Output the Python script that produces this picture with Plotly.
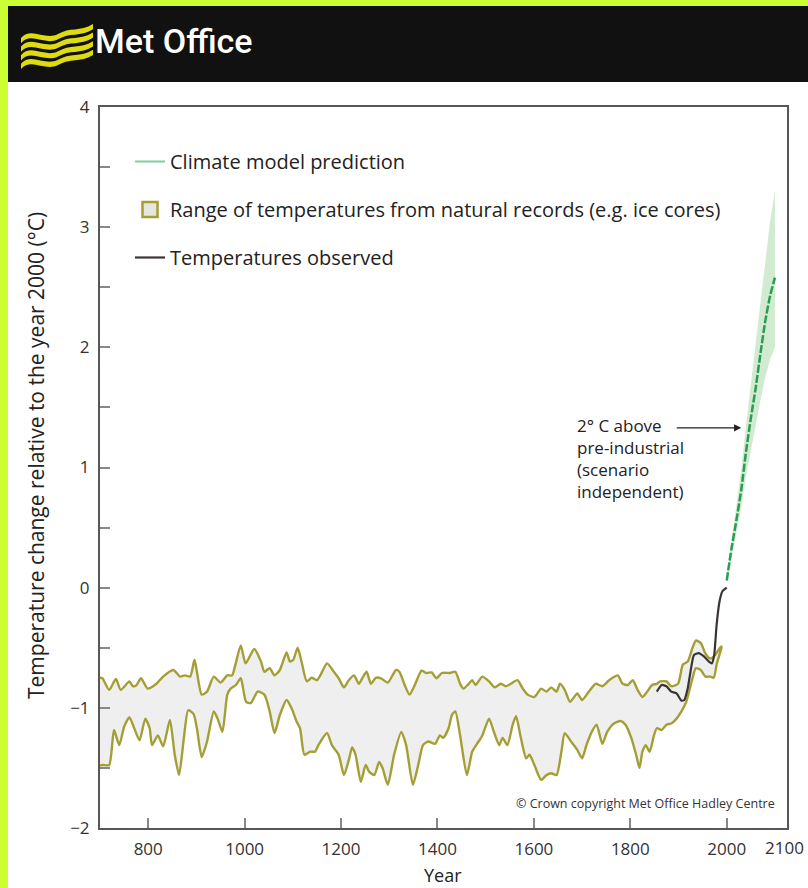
import plotly.graph_objects as go

# ---------------- data ----------------
nat_upper_years = [700, 705, 719, 733, 743, 761, 768, 775, 785, 799, 817, 831, 852, 866, 876, 887, 896, 901, 911, 922,
                   936, 950, 964, 974, 981, 992, 1002, 1020, 1034, 1041, 1052, 1062, 1073, 1087, 1094, 1101, 1110, 1118,
                   1129, 1139, 1150, 1157, 1171, 1185, 1195, 1206, 1216, 1227, 1237, 1244, 1253, 1262, 1272, 1283, 1297,
                   1314, 1321, 1332, 1342, 1353, 1367, 1377, 1388, 1398, 1409, 1426, 1437, 1447, 1454, 1465, 1472, 1479,
                   1493, 1507, 1519, 1531, 1542, 1552, 1566, 1577, 1587, 1601, 1615, 1626, 1636, 1647, 1654, 1664, 1675,
                   1690, 1700, 1714, 1728, 1742, 1756, 1774, 1784, 1795, 1805, 1815, 1825, 1835, 1845, 1855, 1862, 1875,
                   1885, 1899, 1909, 1919, 1929, 1936, 1946, 1956, 1966, 1976, 1986, 1989]
nat_upper_vals = [-0.75, -0.754, -0.85, -0.76, -0.85, -0.78, -0.82, -0.815, -0.754, -0.84, -0.80, -0.74, -0.685, -0.74,
                  -0.73, -0.74, -0.60, -0.70, -0.89, -0.865, -0.74, -0.79, -0.73, -0.73, -0.64, -0.48, -0.63, -0.51,
                  -0.615, -0.70, -0.67, -0.73, -0.685, -0.54, -0.615, -0.60, -0.50, -0.615, -0.78, -0.75, -0.77, -0.73,
                  -0.63, -0.70, -0.754, -0.83, -0.77, -0.73, -0.80, -0.754, -0.70, -0.80, -0.75, -0.754, -0.79, -0.685,
                  -0.70, -0.81, -0.89, -0.81, -0.69, -0.71, -0.705, -0.754, -0.71, -0.71, -0.70, -0.80, -0.84, -0.80,
                  -0.77, -0.81, -0.74, -0.78, -0.83, -0.80, -0.82, -0.80, -0.77, -0.84, -0.89, -0.91, -0.84, -0.865,
                  -0.83, -0.865, -0.80, -0.85, -0.95, -0.88, -0.935, -0.865, -0.80, -0.82, -0.77, -0.73, -0.80, -0.81,
                  -0.77, -0.85, -0.91, -0.865, -0.81, -0.80, -0.78, -0.78, -0.82, -0.80, -0.64, -0.615, -0.50, -0.44,
                  -0.46, -0.55, -0.59, -0.56, -0.50, -0.49]

nat_lower_years = [700, 705, 719, 729, 740, 750, 761, 771, 782, 794, 803, 808, 820, 831, 845, 855, 864, 874, 883, 894,
                   901, 911, 922, 936, 944, 954, 964, 971, 982, 992, 1003, 1013, 1027, 1041, 1052, 1062, 1073, 1087,
                   1097, 1108, 1115, 1124, 1136, 1146, 1153, 1171, 1181, 1195, 1206, 1216, 1223, 1230, 1241, 1251, 1258,
                   1269, 1279, 1286, 1297, 1310, 1325, 1335, 1349, 1360, 1370, 1381, 1395, 1405, 1412, 1423, 1430, 1437,
                   1447, 1461, 1472, 1482, 1493, 1507, 1517, 1528, 1535, 1545, 1556, 1563, 1573, 1584, 1591, 1601, 1615,
                   1626, 1636, 1647, 1657, 1664, 1677, 1690, 1700, 1709, 1720, 1730, 1742, 1752, 1766, 1780, 1790, 1802,
                   1812, 1819, 1825, 1832, 1840, 1849, 1855, 1865, 1875, 1885, 1896, 1906, 1916, 1926, 1936, 1946, 1956,
                   1966, 1973, 1979, 1989]
nat_lower_vals = [-1.48, -1.476, -1.476, -1.185, -1.31, -1.157, -1.08, -1.17, -1.27, -1.09, -1.17, -1.31, -1.23, -1.32,
                  -1.10, -1.39, -1.56, -1.25, -1.02, -1.05, -1.17, -1.41, -1.28, -1.03, -1.09, -1.20, -0.89, -0.84,
                  -0.81, -0.754, -0.95, -0.96, -0.865, -0.89, -1.03, -1.21, -1.06, -0.935, -1.00, -1.115, -1.17, -1.39,
                  -1.365, -1.365, -1.31, -1.21, -1.31, -1.39, -1.56, -1.435, -1.33, -1.39, -1.615, -1.476, -1.53,
                  -1.56, -1.45, -1.50, -1.64, -1.39, -1.20, -1.31, -1.64, -1.476, -1.31, -1.28, -1.30, -1.23, -1.25,
                  -1.17, -1.06, -1.03, -1.23, -1.56, -1.365, -1.30, -1.23, -1.09, -1.20, -1.31, -1.25, -1.31, -1.14,
                  -1.07, -1.25, -1.42, -1.39, -1.476, -1.60, -1.56, -1.545, -1.56, -1.365, -1.21, -1.28, -1.35, -1.42,
                  -1.31, -1.20, -1.14, -1.30, -1.20, -1.13, -1.11, -1.14, -1.25, -1.39, -1.50, -1.365, -1.31, -1.365,
                  -1.23, -1.17, -1.185, -1.14, -1.13, -1.09, -1.03, -0.95, -0.80, -0.67, -0.685, -0.74, -0.74, -0.75,
                  -0.64, -0.50]

obs_years = [1855, 1865, 1875, 1885, 1896, 1906, 1912, 1919, 1926, 1932, 1942, 1952, 1963, 1969, 1974, 1979, 1985,
             1991, 2000]
obs_vals = [-0.865, -0.81, -0.82, -0.865, -0.88, -0.94, -0.935, -0.84, -0.67, -0.56, -0.545, -0.57, -0.615, -0.63,
            -0.56, -0.31, -0.115, -0.03, 0.0]

model_years = [2000, 2010, 2020, 2030, 2040, 2050, 2060, 2070, 2080, 2090, 2100]
model_mid = [0.06, 0.33, 0.56, 0.81, 1.13, 1.41, 1.66, 1.95, 2.22, 2.43, 2.58]
model_upper = [0.09, 0.40, 0.68, 0.98, 1.35, 1.70, 2.05, 2.40, 2.75, 3.05, 3.30]
model_lower = [0.04, 0.27, 0.46, 0.66, 0.93, 1.15, 1.35, 1.56, 1.75, 1.90, 2.00]

x_tickvals = [800, 1000, 1200, 1400, 1600, 1800, 2000]
x_ticktext = ["800", "1000", "1200", "1400", "1600", "1800", "2000"]
y_tickvals = [-2, -1, 0, 1, 2, 3, 4]

# ---------------- layout helpers ----------------
W, H = 808, 888
L, R, T, B = 100, 787, 107, 828
PW, PH = R - L, B - T


def px(x):
    return (x - L) / PW


def py(y):
    return (B - y) / PH


FONT = "Open Sans, Noto Sans, sans-serif"
OLIVE = "#a39f35"

fig = go.Figure()

# model range band
fig.add_trace(go.Scatter(
    x=model_years + model_years[::-1], y=model_upper + model_lower[::-1],
    fill="toself", fillcolor="rgba(150,210,150,0.45)", line=dict(width=0),
    mode="lines", showlegend=False, hoverinfo="skip"))

# natural records band
fig.add_trace(go.Scatter(
    x=nat_upper_years + nat_lower_years[::-1], y=nat_upper_vals + nat_lower_vals[::-1],
    fill="toself", fillcolor="#efefef", line=dict(color=OLIVE, width=2.4, shape="spline", smoothing=0.6),
    mode="lines", showlegend=False, hoverinfo="skip"))

# observed
fig.add_trace(go.Scatter(
    x=obs_years, y=obs_vals, mode="lines", line=dict(color="#3b3434", width=2.2, shape="spline", smoothing=0.5),
    name="Temperatures observed", legendgroup="c", legendrank=3))

# model prediction
fig.add_trace(go.Scatter(
    x=model_years, y=model_mid, mode="lines",
    line=dict(color="#2a9d52", width=2.5, dash="8px,2px", shape="spline", smoothing=0.6),
    showlegend=False))

# legend entries for the model line and the natural range
fig.add_trace(go.Scatter(
    x=[None], y=[None], mode="lines", line=dict(color="#7fd0a0", width=2),
    name="Climate model prediction", legendgroup="a", legendrank=1))
fig.add_trace(go.Scatter(
    x=[None], y=[None], mode="markers",
    marker=dict(symbol="square", size=15, color="#e6e6e0", line=dict(color=OLIVE, width=2.5)),
    name="Range of temperatures from natural records (e.g. ice cores)", legendgroup="b", legendrank=2))

# ---------------- decoration shapes ----------------
shapes = []
shapes.append(dict(type="rect", xref="paper", yref="paper", x0=px(8), x1=px(W + 5), y0=py(H + 5), y1=py(82),
                   fillcolor="white", line=dict(width=0), layer="below"))
shapes.append(dict(type="rect", xref="paper", yref="paper", x0=px(8), x1=px(W + 5), y0=py(82), y1=py(6),
                   fillcolor="#111111", line=dict(width=0), layer="below"))


def logo_stripe(oy):
    top = [(21, oy + 7), (31, oy - 5), (45, oy + 10), (58, oy + 3), (70, oy - 4), (80, oy + 1), (93, oy - 7)]
    th = 5.2
    bot = [(x, y + th) for (x, y) in top][::-1]

    def p(pt):
        return f"{px(pt[0]):.5f},{py(pt[1]):.5f}"
    path = "M " + p(top[0]) + " C " + p(top[1]) + " " + p(top[2]) + " " + p(top[3])
    path += " C " + p(top[4]) + " " + p(top[5]) + " " + p(top[6])
    path += " L " + p(bot[0]) + " C " + p(bot[1]) + " " + p(bot[2]) + " " + p(bot[3])
    path += " C " + p(bot[4]) + " " + p(bot[5]) + " " + p(bot[6]) + " Z"
    return path


for i in range(4):
    shapes.append(dict(type="path", xref="paper", yref="paper", path=logo_stripe(31 + i * 8.6),
                       fillcolor="#dedc10", line=dict(width=0), layer="above"))

# ---------------- annotations ----------------
annotations = [
    dict(text="Met Office", xref="paper", yref="paper", x=px(93), y=py(41), xanchor="left", yanchor="middle",
         showarrow=False, font=dict(family="Roboto, sans-serif", size=34, color="white", weight=500)),
    dict(text="2° C above<br>pre-industrial<br>(scenario<br>independent)", xref="paper", yref="paper",
         x=px(575), y=py(412), xanchor="left", yanchor="top", align="left", showarrow=False,
         font=dict(family=FONT, size=17, color="#222")),
    dict(text="", x=2030, y=1.33, xref="x", yref="y", showarrow=True, ax=-66, ay=0,
         arrowhead=2, arrowsize=1.1, arrowwidth=1.3, arrowcolor="#222"),
    dict(text="© Crown copyright Met Office Hadley Centre", xref="paper", yref="paper", x=px(777), y=py(803),
         xanchor="right", yanchor="middle", showarrow=False, font=dict(family=FONT, size=12.5, color="#333")),
    dict(text="Temperature change relative to the year 2000 (°C)", xref="paper", yref="paper", x=px(36),
         y=py(456), xanchor="center", yanchor="middle", textangle=-90, showarrow=False,
         font=dict(family=FONT, size=21, color="#222")),
    dict(text="Year", xref="paper", yref="paper", x=px(443), y=py(875), xanchor="center", yanchor="middle",
         showarrow=False, font=dict(family=FONT, size=18, color="#222")),
    dict(text="2100", xref="paper", yref="paper", x=px(784), y=py(847), xanchor="center", yanchor="middle",
         showarrow=False, font=dict(family=FONT, size=17, color="#333")),
]

fig.update_layout(
    width=W, height=H,
    margin=dict(l=L, r=W - R, t=T, b=H - B),
    paper_bgcolor="#ccff33", plot_bgcolor="white",
    font=dict(family=FONT, size=16, color="#333"),
    shapes=shapes, annotations=annotations,
    legend=dict(x=px(130), y=py(142), xanchor="left", yanchor="top", bgcolor="rgba(0,0,0,0)",
                font=dict(family=FONT, size=20, color="#222"), traceorder="grouped", tracegroupgap=19,
                itemwidth=30),
    xaxis=dict(range=[700, 2125], tickvals=x_tickvals, ticktext=x_ticktext, ticks="inside", ticklen=10,
               tickwidth=1.5, tickcolor="#888", showgrid=False, zeroline=False, showline=True, linewidth=2,
               linecolor="#5b5555", mirror=True, ticklabelstandoff=5, tickfont=dict(size=17, color="#333")),
    yaxis=dict(range=[-2, 4], tickvals=y_tickvals, ticks="inside", ticklen=10, tickwidth=1.5, tickcolor="#888",
               minor=dict(dtick=0.5, ticks="inside", ticklen=10, tickwidth=1.5, tickcolor="#888"),
               showgrid=False, zeroline=False, showline=True, linewidth=2, linecolor="#5b5555", mirror=True,
               ticklabelstandoff=5, tickfont=dict(size=17, color="#333")),
)

fig.write_html("out.html", config={"displayModeBar": False},
               post_script="document.body.style.margin='0';document.body.style.background='#ccff33';")
